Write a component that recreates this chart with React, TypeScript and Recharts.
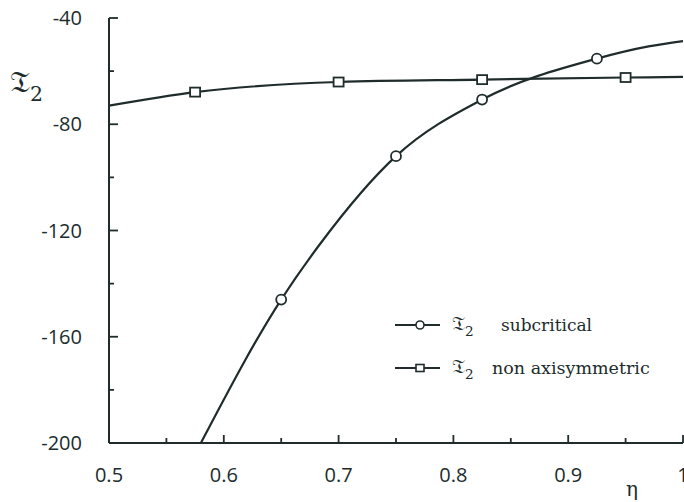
import { LineChart, Line, XAxis, YAxis } from "recharts";

// subcritical branch (m = drawn with a circle marker)
const subX = [0.58, 0.65, 0.684, 0.75, 0.825, 0.925, 0.97, 1.0];
const subY = [-200, -146, -125, -92, -70.7, -55.3, -50.7, -48.7];
const subM = [false, true, false, true, true, true, false, false];

// non axisymmetric branch (square markers)
const nonX = [0.5, 0.575, 0.7, 0.825, 0.95, 1.0];
const nonY = [-73, -67.9, -64.1, -63.2, -62.4, -62.2];
const nonM = [false, true, true, true, true, false];

const xTicks = [0.5, 0.55, 0.6, 0.65, 0.7, 0.75, 0.8, 0.85, 0.9, 0.95, 1.0];
const xLabels: Record<string, string> = { "0.5": "0.5", "0.6": "0.6", "0.7": "0.7", "0.8": "0.8", "0.9": "0.9", "1": "1" };
const yTicks = [-200, -180, -160, -140, -120, -100, -80, -60, -40];

const INK = "#202c2c";
const NUM_FONT = "'Open Sans', sans-serif";
const TXT_FONT = "'DejaVu Serif', serif";

const subData = subX.map((x, i) => ({ x, y: subY[i], m: subM[i] }));
const nonData = nonX.map((x, i) => ({ x, y: nonY[i], m: nonM[i] }));

const isMajorX = (v: number) => xLabels[String(v)] !== undefined;
const isMajorY = (v: number) => v % 40 === 0;

const BottomTick = ({ x, y, payload }: any) => {
  const major = isMajorX(payload.value);
  return (
    <g>
      <line x1={x} y1={y} x2={x} y2={y - (major ? 8 : 5)} stroke={INK} strokeWidth={1.8} />
      {major && (
        <text x={x} y={y + 39} textAnchor="middle" fontFamily={NUM_FONT} fontSize={20} fill={INK}>
          {xLabels[String(payload.value)]}
        </text>
      )}
    </g>
  );
};

const TopTick = ({ x, y, payload }: any) => {
  const major = isMajorX(payload.value);
  return <line x1={x} y1={y} x2={x} y2={y + (major ? 8 : 5)} stroke={INK} strokeWidth={1.8} />;
};

const LeftTick = ({ x, y, payload }: any) => {
  const major = isMajorY(payload.value);
  return (
    <g>
      <line x1={x} y1={y} x2={x + (major ? 9 : 5)} y2={y} stroke={INK} strokeWidth={1.8} />
      {major && (
        <text x={x - 27} y={y + 7} textAnchor="end" fontFamily={NUM_FONT} fontSize={20} fill={INK}>
          {payload.value}
        </text>
      )}
    </g>
  );
};

const RightTick = ({ x, y, payload }: any) => {
  const major = isMajorY(payload.value);
  return <line x1={x} y1={y} x2={x - (major ? 9 : 5)} y2={y} stroke={INK} strokeWidth={1.8} />;
};

const circleDot = (props: any) => {
  const { cx, cy, payload, index } = props;
  if (!payload.m) return <g key={`c-${index}`} />;
  return <circle key={`c-${index}`} cx={cx} cy={cy} r={5} fill="#fff" stroke={INK} strokeWidth={1.8} />;
};

const squareDot = (props: any) => {
  const { cx, cy, payload, index } = props;
  if (!payload.m) return <g key={`s-${index}`} />;
  return <rect key={`s-${index}`} x={cx - 5} y={cy - 4.5} width={10} height={9} fill="#fff" stroke={INK} strokeWidth={1.8} />;
};

const TLabel = ({ x, y, size }: { x: number; y: number; size: number }) => (
  <text x={x} y={y} fontFamily={TXT_FONT} fill={INK} fontSize={size}>
    𝔗
    <tspan dy={size * 0.3} fontSize={size * 0.68}>2</tspan>
  </text>
);

const LegendBox = () => (
  <svg width={300} height={90} style={{ position: "absolute", left: 380, top: 300 }}>
    <line x1={15} y1={25} x2={60} y2={25} stroke={INK} strokeWidth={1.8} />
    <circle cx={40} cy={25} r={4} fill="#fff" stroke={INK} strokeWidth={1.6} />
    <TLabel x={72} y={30} size={20} />
    <text x={121} y={31} fontFamily={TXT_FONT} fontSize={17} fill={INK}>subcritical</text>
    <line x1={15} y1={68} x2={60} y2={68} stroke={INK} strokeWidth={1.8} />
    <rect x={36} y={64.5} width={8} height={7} fill="#fff" stroke={INK} strokeWidth={1.6} />
    <TLabel x={72} y={73} size={20} />
    <text x={112} y={74} fontFamily={TXT_FONT} fontSize={17.5} fill={INK}>non axisymmetric</text>
  </svg>
);

export default function App() {
  return (
    <div style={{ position: "absolute", left: 0, top: 0, width: 684, height: 502, background: "#fff" }}>
      <LineChart width={684} height={502} margin={{ top: 18, right: 1, bottom: 0, left: 0 }}>
        <XAxis
          dataKey="x"
          type="number"
          domain={[0.5, 1]}
          ticks={xTicks}
          interval={0}
          allowDataOverflow
          height={59}
          tickSize={0}
          tickMargin={0}
          tickLine={false}
          tick={<BottomTick />}
          axisLine={{ stroke: INK, strokeWidth: 2 }}
          label={() => (
            <text x={626} y={496} fontFamily={TXT_FONT} fontSize={20} fill={INK}>η</text>
          )}
        />
        <XAxis
          xAxisId="top"
          orientation="top"
          type="number"
          domain={[0.5, 1]}
          ticks={xTicks}
          interval={0}
          height={0}
          tickSize={0}
          tickMargin={0}
          tickLine={false}
          tick={<TopTick />}
          axisLine={{ stroke: INK, strokeWidth: 2 }}
        />
        <YAxis
          type="number"
          domain={[-200, -40]}
          ticks={yTicks}
          interval={0}
          allowDataOverflow
          width={109}
          tickSize={0}
          tickMargin={0}
          tickLine={false}
          tick={<LeftTick />}
          axisLine={{ stroke: INK, strokeWidth: 2 }}
          label={() => <TLabel x={10} y={92} size={30} />}
        />
        <YAxis
          yAxisId="right"
          orientation="right"
          type="number"
          domain={[-200, -40]}
          ticks={yTicks}
          interval={0}
          width={0}
          tickSize={0}
          tickMargin={0}
          tickLine={false}
          tick={<RightTick />}
          axisLine={{ stroke: INK, strokeWidth: 2 }}
        />
        <Line
          data={nonData}
          dataKey="y"
          type="monotone"
          stroke={INK}
          strokeWidth={2.2}
          dot={squareDot}
          activeDot={false}
          isAnimationActive={false}
        />
        <Line
          data={subData}
          dataKey="y"
          type="monotone"
          stroke={INK}
          strokeWidth={2.2}
          dot={circleDot}
          activeDot={false}
          isAnimationActive={false}
        />
      </LineChart>
      <LegendBox />
    </div>
  );
}
